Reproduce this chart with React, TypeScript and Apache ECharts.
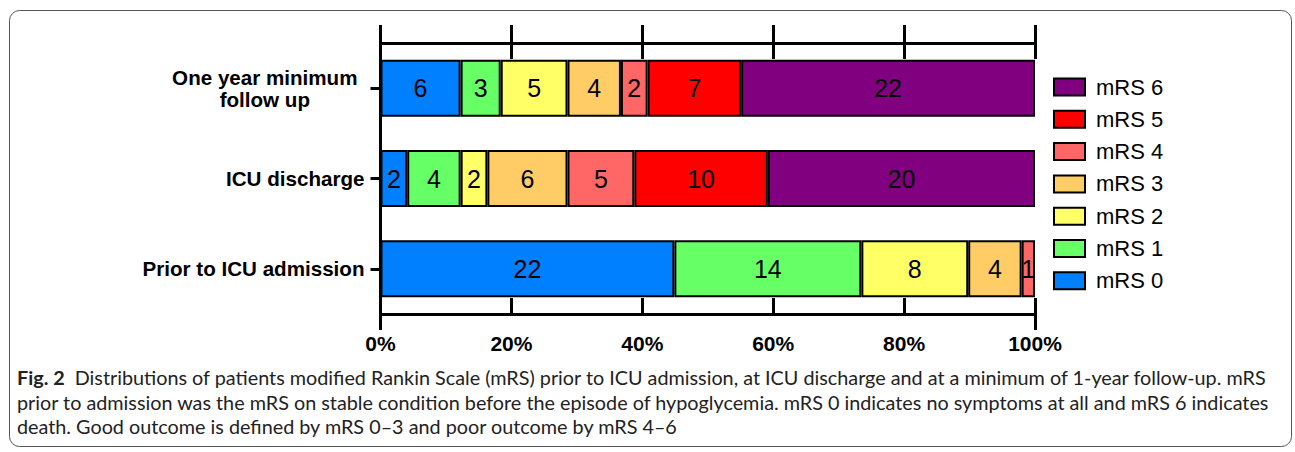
import { useEffect, useRef } from 'react';
import * as echarts from 'echarts';

const categories = ['Prior to ICU admission', 'ICU discharge', 'One year minimum\nfollow up'];
const seriesNames = ['mRS 0', 'mRS 1', 'mRS 2', 'mRS 3', 'mRS 4', 'mRS 5', 'mRS 6'];
const mrs0 = [22, 2, 6];
const mrs1 = [14, 4, 3];
const mrs2 = [8, 2, 5];
const mrs3 = [4, 6, 4];
const mrs4 = [1, 5, 2];
const mrs5 = [0, 10, 7];
const mrs6 = [0, 20, 22];
const seriesCounts = [mrs0, mrs1, mrs2, mrs3, mrs4, mrs5, mrs6];
const xTickStep = 20;
const colors = ['#007FFF', '#66FF66', '#FFFF66', '#FFCC66', '#FF6666', '#FF0000', '#800080'];
const captionLines = [
  '{b|Fig. 2}  Distributions of patients modified Rankin Scale (mRS) prior to ICU admission, at ICU discharge and at a minimum of 1-year follow-up. mRS',
  'prior to admission was the mRS on stable condition before the episode of hypoglycemia. mRS 0 indicates no symptoms at all and mRS 6 indicates',
  'death. Good outcome is defined by mRS 0\u20133 and poor outcome by mRS 4\u20136',
];

const ARIAL = '"Liberation Sans", Arial, Helvetica, sans-serif';
const CAPTION_FONT = 'Lato, "Noto Sans", sans-serif';

export default function App() {
  const ref = useRef<HTMLDivElement>(null);
  useEffect(() => {
    if (!ref.current) return;
    const chart = echarts.init(ref.current, undefined, { renderer: 'svg' });
    const totals = categories.map((_, i) => seriesCounts.reduce((s, arr) => s + arr[i], 0));
    const series = seriesNames.map((name, si) => ({
      name,
      type: 'bar',
      stack: 'total',
      barWidth: 57,
      xAxisIndex: 0,
      yAxisIndex: 0,
      itemStyle: { color: colors[si], borderColor: '#000', borderWidth: 2 },
      label: {
        show: true,
        position: 'inside',
        color: '#000',
        fontSize: 25,
        fontFamily: ARIAL,
        formatter: (p: any) => String(p.data.count),
      },
      data: seriesCounts[si].map((c, ci) =>
        c === 0 ? { value: '-', count: 0 } : { value: (c / totals[ci]) * 100, count: c }
      ),
    }));

    const blackLine = { color: '#000', width: 3 };
    chart.setOption({
      animation: false,
      grid: { left: 380.5, right: 260, top: 43, bottom: 138 },
      legend: {
        orient: 'vertical',
        left: 1048,
        top: 71,
        itemWidth: 31,
        itemHeight: 17,
        itemGap: 10.3,
        icon: 'rect',
        selectedMode: false,
        data: [...seriesNames].reverse(),
        textStyle: { fontSize: 22, color: '#000', fontFamily: ARIAL, lineHeight: 22, padding: [0, 0, 0, 6] },
      },
      xAxis: [
        {
          type: 'value', position: 'bottom', min: 0, max: 100, interval: xTickStep,
          axisLine: { show: true, lineStyle: blackLine },
          axisTick: { show: true, inside: true, length: 16, lineStyle: blackLine },
          axisLabel: { formatter: '{value}%', fontSize: 21, fontWeight: 'bold', color: '#000', fontFamily: ARIAL, margin: 19 },
          splitLine: { show: false },
        },
        {
          type: 'value', position: 'bottom', min: 0, max: 100, interval: 100,
          axisLine: { show: false },
          axisTick: { show: true, inside: false, length: 16, lineStyle: blackLine },
          axisLabel: { show: false },
          splitLine: { show: false },
        },
        {
          type: 'value', position: 'top', min: 0, max: 100, interval: xTickStep,
          axisLine: { show: true, lineStyle: blackLine },
          axisTick: { show: true, inside: false, length: 18, lineStyle: blackLine },
          axisLabel: { show: false },
          splitLine: { show: false },
        },
        {
          type: 'value', position: 'top', min: 0, max: 100, interval: xTickStep,
          axisLine: { show: false },
          axisTick: { show: true, inside: true, length: 16, lineStyle: blackLine },
          axisLabel: { show: false },
          splitLine: { show: false },
        },
      ],
      yAxis: [
        {
          type: 'category', position: 'left', data: categories,
          axisLine: { show: true, lineStyle: blackLine },
          axisTick: { show: true, alignWithLabel: true, length: 10, lineStyle: blackLine },
          axisLabel: {
            fontSize: 20.6, fontWeight: 'bold', color: '#000', fontFamily: ARIAL, margin: 16, lineHeight: 22,
            formatter: (v: string) => (v.includes('\n') ? `{c|${v}}` : v),
            rich: {
              c: {
                align: 'center', fontSize: 20.6, fontWeight: 'bold', color: '#000', fontFamily: ARIAL,
                lineHeight: 22, padding: [0, 7, 0, 0],
              },
            },
          },
        },
        {
          type: 'category', position: 'right', data: categories,
          axisLine: { show: true, lineStyle: blackLine },
          axisTick: { show: false },
          axisLabel: { show: false },
        },
      ],
      graphic: [
        {
          type: 'rect', silent: true, z: -10,
          shape: { x: 9.5, y: 10.5, width: 1282, height: 436, r: 10 },
          style: { fill: 'none', stroke: '#555', lineWidth: 1 },
        },
        {
          type: 'text', silent: true,
          x: 17, y: 365,
          style: {
            text: captionLines.join('\n'),
            fontSize: 19.8, fontFamily: CAPTION_FONT, fill: '#222', lineHeight: 24.5,
            verticalAlign: 'top', align: 'left',
            rich: { b: { fontWeight: 'bold', fontSize: 19.8, fontFamily: CAPTION_FONT, fill: '#222', lineHeight: 24.5 } },
          },
        },
      ],
      series,
    });
    return () => chart.dispose();
  }, []);
  return <div ref={ref} style={{ position: 'fixed', left: 0, top: 0, width: 1295, height: 452, background: '#fff' }} />;
}
